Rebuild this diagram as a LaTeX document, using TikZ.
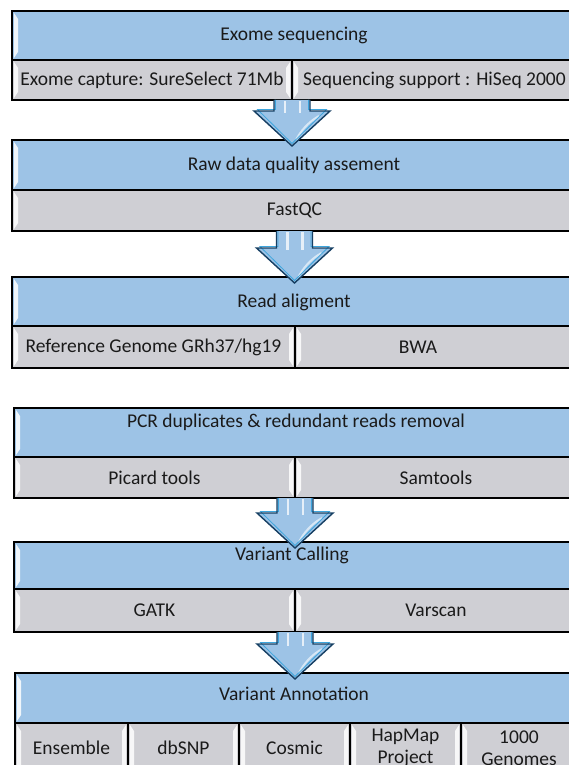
\documentclass[tikz,border=0pt]{standalone}
\usepackage{fontspec}
\setmainfont{Carlito}
\usetikzlibrary{calc}
\definecolor{hdr}{HTML}{9DC3E6}
\definecolor{subc}{HTML}{CFCFD4}
\definecolor{arrline}{HTML}{163F63}
\definecolor{arrinner}{HTML}{3DA5DD}
\definecolor{txt}{HTML}{1A1A1A}
\tikzset{
  x=1pt,y=-1pt,
  box/.style={draw=black, line width=1.2pt, inner sep=0pt, outer sep=0pt, anchor=north west,
    font=\fontsize{19.5}{22}\selectfont, text=txt, align=center},
  hdrbox/.style={box, fill=hdr},
  subbox/.style={box, fill=subc},
  hdrtext/.style={font=\fontsize{19.5}{22}\selectfont, text=txt, inner sep=0pt},
  frame/.style={draw=black, line width=2pt},
  arrfill/.style={fill=hdr},
  arrdraw/.style={draw=arrline, line width=1.4pt, line join=miter},
  arrin/.style={draw=arrinner, line width=0.8pt, line join=miter},
  shine/.style={draw=white, opacity=0.75, line width=2.5pt},
}
\newcommand\bev[1]{%
  \fill[white,opacity=.85] ($(#1.north west)+(2,2)$) -- ($(#1.north west)+(6,8)$) -- ($(#1.south west)+(6,-8)$) -- ($(#1.south west)+(2,-2)$) -- cycle;
  \fill[white,opacity=.85] ($(#1.north east)+(-2,2)$) -- ($(#1.north east)+(-6,8)$) -- ($(#1.south east)+(-6,-8)$) -- ($(#1.south east)+(-2,-2)$) -- cycle;}
\newcommand\flowarrow[2]{%
  \path[arrfill] let \p1=(#1), \p2=(#2) in
    (\x1-18pt,\y1) -- (\x1+18pt,\y1) -- (\x1+18pt,\y2+29pt) -- (\x1+38pt,\y2+29pt) -- (\x1,\y2-6pt)
    -- (\x1-38pt,\y2+29pt) -- (\x1-18pt,\y2+29pt) -- cycle;
  \path[shine] let \p1=(#1), \p2=(#2) in
    (\x1-7pt,\y1-1pt) -- (\x1-7pt,\y2+27pt) (\x1+8pt,\y1-1pt) -- (\x1+8pt,\y2+27pt);
  \path[shine, line width=2pt, opacity=0.6] let \p1=(#1), \p2=(#2) in
    (\x1+27pt,\y2+24pt) .. controls (\x1+16pt,\y2+18pt) and (\x1+8pt,\y2+8pt) .. (\x1+4pt,\y2);
  \path[arrin] let \p1=(#1), \p2=(#2) in
    (\x1+16.5pt,\y1) -- (\x1+16.5pt,\y2+30.5pt) -- (\x1+34.5pt,\y2+30.5pt) -- (\x1,\y2-3.5pt)
    -- (\x1-34.5pt,\y2+30.5pt) -- (\x1-16.5pt,\y2+30.5pt) -- (\x1-16.5pt,\y1);
  \path[arrdraw] let \p1=(#1), \p2=(#2) in
    (\x1+18pt,\y1) -- (\x1+18pt,\y2+29pt) -- (\x1+38pt,\y2+29pt) -- (\x1,\y2-6pt)
    -- (\x1-38pt,\y2+29pt) -- (\x1-18pt,\y2+29pt) -- (\x1-18pt,\y1);}
\begin{document}
\begin{tikzpicture}
\useasboundingbox (0,0) rectangle (569,765);
\clip (0,0) rectangle (569,765);
\fill[white] (0,0) rectangle (569,765);

% Panel 1
\node[hdrbox, minimum width=565pt, minimum height=49pt] (p1h) at (12,11) {};
\node[subbox, minimum width=280pt, minimum height=40pt] (p1a) at (12,60) {Exome capture: SureSelect 71Mb};
\node[subbox, minimum width=285pt, minimum height=40pt] (p1b) at (292,60) {Sequencing support : HiSeq 2000};
\bev{p1h}\bev{p1a}\bev{p1b}
\node[hdrtext] (p1t) at (294,35) {Exome sequencing};
\draw[frame] (p1h.north west) rectangle (p1b.south east);

% Panel 2
\node[hdrbox, minimum width=565pt, minimum height=50pt] (p2h) at (12,140) {};
\node[subbox, minimum width=565pt, minimum height=41pt] (p2a) at (12,190) {FastQC};
\bev{p2h}\bev{p2a}
\node[hdrtext] (p2t) at (294,165) {Raw data quality assement};
\draw[frame] (p2h.north west) rectangle (p2a.south east);

% Panel 3
\node[hdrbox, minimum width=565pt, minimum height=49pt] (p3h) at (12,277) {};
\node[subbox, minimum width=283pt, minimum height=42pt] (p3a) at (12,326) {Reference Genome GRh37/hg19};
\node[subbox, minimum width=282pt, minimum height=42pt] (p3b) at (295,326) {BWA\hspace*{36pt}};
\bev{p3h}\bev{p3a}\bev{p3b}
\node[hdrtext] (p3t) at (294,302) {Read aligment};
\draw[frame] (p3h.north west) rectangle (p3b.south east);

% Panel 4
\node[hdrbox, minimum width=563pt, minimum height=49pt] (p4h) at (14,408) {};
\node[subbox, minimum width=281pt, minimum height=41pt] (p4a) at (14,457) {Picard tools};
\node[subbox, minimum width=282pt, minimum height=41pt] (p4b) at (295,457) {Samtools};
\bev{p4h}\bev{p4a}\bev{p4b}
\node[hdrtext] (p4t) at (296,422) {PCR duplicates \& redundant reads removal};
\draw[frame] (p4h.north west) rectangle (p4b.south east);

% Panel 5
\node[hdrbox, minimum width=563pt, minimum height=47pt] (p5h) at (14,542) {};
\node[subbox, minimum width=281pt, minimum height=43pt] (p5a) at (14,589) {GATK};
\node[subbox, minimum width=282pt, minimum height=43pt] (p5b) at (295,589) {Varscan};
\bev{p5h}\bev{p5a}\bev{p5b}
\node[hdrtext] (p5t) at (292,555) {Variant Calling};
\draw[frame] (p5h.north west) rectangle (p5b.south east);

% Panel 6
\node[hdrbox, minimum width=562pt, minimum height=50pt] (p6h) at (15,673) {};
\node[subbox, minimum width=113pt, minimum height=50pt] (p6a) at (15,723) {Ensemble};
\node[subbox, minimum width=111pt, minimum height=50pt] (p6b) at (128,723) {dbSNP};
\node[subbox, minimum width=111pt, minimum height=50pt] (p6c) at (239,723) {Cosmic};
\node[subbox, minimum width=111pt, minimum height=50pt] (p6d) at (350,723) {HapMap\\Project};
\node[subbox, minimum width=116pt, minimum height=50pt] (p6e) at (461,723) {1000\\Genomes};
\bev{p6h}\bev{p6a}\bev{p6b}\bev{p6c}\bev{p6d}\bev{p6e}
\node[hdrtext] (p6t) at (294,694) {Variant Annotation};
\draw[frame] (p6h.north west) rectangle (p6e.south east);

% Arrows
\flowarrow{p1a.south east}{p2h.north}
\flowarrow{p2a.south}{p3h.north}
\flowarrow{p4a.south east}{p5h.north}
\flowarrow{p5a.south east}{p6h.north}
\end{tikzpicture}
\end{document}
